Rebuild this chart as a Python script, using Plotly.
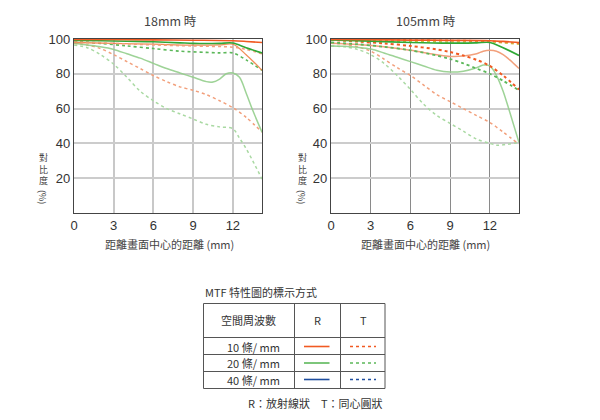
import plotly.graph_objects as go

# ---------------- data ----------------
TITLE_L = "18mm 時"
TITLE_R = "105mm 時"
X_TITLE = "距離畫面中心的距離 (mm)"
Y_TITLE_CHARS = ["對", "比", "度"]
Y_TITLE_UNIT = "(%)"
X_TICKS = [0, 3, 6, 9, 12]
Y_TICKS = [20, 40, 60, 80, 100]

# 18mm curves
w_10R_x = [0, 3, 6, 9, 12, 13, 14.2]
w_10R_v = [99.8, 99.7, 99.5, 99.3, 99.0, 98.6, 98.0]
w_20R_x = [0, 2, 4, 6, 8, 9, 10, 11, 12, 13, 14.2]
w_20R_v = [99.2, 99.0, 98.7, 98.4, 97.8, 97.5, 97.4, 97.5, 97.7, 95.0, 92.0]
w_10T_x = [0, 3, 6, 9, 12, 13, 14.2]
w_10T_v = [98.5, 97.5, 96.6, 96.0, 95.3, 94.0, 91.5]
w_10Tb_x = [0, 3, 6, 9, 11, 12, 13, 14.2]
w_10Tb_v = [98.0, 97.5, 97.0, 96.5, 96.6, 97.0, 91.0, 82.0]
w_20T_x = [0, 2, 4, 6, 8, 10, 11, 12, 13, 14.2]
w_20T_v = [98.5, 97.5, 96.0, 94.5, 93.0, 92.3, 92.0, 92.0, 88.0, 82.0]
w_20Rb_x = [0, 1, 2, 3, 4, 5, 6, 7, 8, 9, 10, 10.5, 11, 11.5, 12, 12.5, 13, 13.5, 14.2]
w_20Rb_v = [97.5, 96.5, 95.5, 94.0, 91.5, 89.0, 86.0, 83.0, 80.5, 78.0, 75.5, 75.3, 77.0, 80.0, 80.5, 78.0, 69.0, 59.0, 46.5]
w_10Tc_x = [0, 1, 2, 3, 4, 5, 6, 7, 8, 9, 10, 11, 12, 13, 14.2]
w_10Tc_v = [97.5, 96.5, 94.5, 91.0, 87.0, 83.0, 79.0, 75.5, 72.5, 70.5, 68.0, 64.5, 60.5, 55.0, 46.5]
w_20Tc_x = [0, 1, 2, 3, 4, 5, 6, 7, 8, 9, 10, 11, 12, 12.5, 13, 13.5, 14.2]
w_20Tc_v = [96.5, 95.0, 91.0, 85.5, 78.0, 70.0, 64.5, 60.0, 57.0, 54.0, 51.0, 49.5, 48.5, 43.0, 37.0, 30.0, 19.5]

# 105mm curves
t_10R_x = [0, 3, 6, 9, 12, 13, 14.2]
t_10R_v = [99.8, 99.6, 99.4, 99.2, 99.0, 98.6, 98.0]
t_20R_x = [0, 3, 6, 9, 11, 12, 13, 14.2]
t_20R_v = [99.5, 98.8, 98.0, 97.6, 97.8, 98.0, 95.0, 90.5]
t_10Ta_x = [0, 3, 6, 9, 12, 14.2]
t_10Ta_v = [99.9, 99.7, 99.5, 99.2, 98.8, 97.5]
t_20Ta_x = [0, 3, 6, 9, 12, 14.2]
t_20Ta_v = [99.3, 99.0, 98.6, 98.3, 98.3, 97.0]
t_10T_x = [0, 2, 4, 6, 8, 9, 10, 11, 12, 13, 14.2]
t_10T_v = [99.5, 98.5, 97.5, 96.0, 94.0, 92.5, 90.5, 88.0, 84.5, 79.0, 71.0]
t_20T_x = [0, 2, 4, 6, 8, 9, 10, 11, 12, 13, 14.2]
t_20T_v = [98.0, 97.0, 95.5, 93.5, 90.5, 88.5, 86.0, 83.0, 80.0, 76.0, 70.5]
t_10Rb_x = [0, 2, 4, 6, 8, 9, 10, 11, 11.5, 12, 12.5, 13, 13.5, 14.2]
t_10Rb_v = [97.5, 96.8, 95.5, 93.5, 91.0, 90.0, 90.2, 91.5, 93.0, 93.5, 93.0, 91.0, 88.0, 83.0]
t_20Rb_x = [0, 1, 2, 3, 4, 5, 6, 7, 8, 9, 10, 11, 11.5, 12, 12.5, 13, 13.5, 14.2]
t_20Rb_v = [96.0, 95.8, 95.2, 94.2, 92.0, 89.5, 87.0, 84.5, 82.0, 81.0, 81.5, 83.5, 85.0, 84.5, 79.0, 70.0, 58.0, 40.5]
t_10Tc_x = [0, 1, 2, 3, 4, 5, 6, 7, 8, 9, 10, 11, 12, 13, 14.2]
t_10Tc_v = [97.5, 97.0, 95.5, 93.0, 88.5, 83.5, 79.0, 73.5, 68.0, 64.0, 60.0, 56.0, 52.0, 46.5, 39.5]
t_20Tc_x = [0, 1, 2, 3, 4, 5, 6, 7, 8, 9, 10, 11, 12, 12.5, 13, 14.2]
t_20Tc_v = [96.0, 95.5, 94.0, 91.0, 86.0, 79.0, 71.0, 62.5, 56.0, 51.5, 47.0, 42.5, 40.0, 39.0, 39.2, 40.5]

LEGEND_TITLE = "MTF 特性圖的標示方式"
LEGEND_HEAD = ["空間周波數", "R", "T"]
LEGEND_ROWS = ["10 條/ mm", "20 條/ mm", "40 條/ mm"]
LEGEND_FOOT = "R：放射線狀　T：同心圓狀"

# ---------------- styles ----------------
ORANGE = "#f15a22"
ORANGE2 = "#f07a3c"
SALMON = "#f2a07c"
DGREEN = "#2fa836"
MGREEN = "#5cb85a"
LGREEN = "#94cf8c"
PGREEN = "#a9d9a2"
BLUE = "#1f4e9f"

fig = go.Figure()


def add(x, y, color, dash, width, ax, opacity=1.0):
    fig.add_trace(go.Scatter(
        x=x, y=y, mode="lines", xaxis=ax[0], yaxis=ax[1],
        line=dict(color=color, dash=dash, width=width, shape="spline", smoothing=0.9),
        opacity=opacity, showlegend=False, hoverinfo="skip"))


L = ("x", "y")
R = ("x2", "y2")
# 18mm
add(w_20Tc_x, w_20Tc_v, PGREEN, "dot", 1.5, L)
add(w_10Tc_x, w_10Tc_v, SALMON, "dot", 1.5, L)
add(w_20Rb_x, w_20Rb_v, LGREEN, "solid", 1.5, L, 0.9)
add(w_20T_x, w_20T_v, MGREEN, "dot", 1.6, L)
add(w_10Tb_x, w_10Tb_v, ORANGE2, "solid", 1.3, L, 0.85)
add(w_10T_x, w_10T_v, SALMON, "dot", 1.6, L)
add(w_20R_x, w_20R_v, DGREEN, "solid", 1.6, L)
add(w_10R_x, w_10R_v, ORANGE, "solid", 1.6, L)
# 105mm
add(t_20Tc_x, t_20Tc_v, PGREEN, "dot", 1.5, R)
add(t_10Tc_x, t_10Tc_v, SALMON, "dot", 1.5, R)
add(t_20Rb_x, t_20Rb_v, LGREEN, "solid", 1.5, R, 0.9)
add(t_10Rb_x, t_10Rb_v, SALMON, "solid", 1.5, R)
add(t_20T_x, t_20T_v, MGREEN, "dot", 1.8, R)
add(t_10T_x, t_10T_v, ORANGE, "dot", 2.0, R)
add(t_20Ta_x, t_20Ta_v, "#c8c040", "dot", 1.5, R)
add(t_10Ta_x, t_10Ta_v, ORANGE2, "dot", 1.5, R)
add(t_20R_x, t_20R_v, DGREEN, "solid", 1.7, R)
add(t_10R_x, t_10R_v, ORANGE, "solid", 1.7, R)

W, H = 600, 420


def px(x):
    return x / W


def py(y):
    return 1 - y / H


TICKFONT = dict(family="Liberation Sans, Arial, sans-serif", size=13, color="#333")
axis_common = dict(showline=True, linecolor="#444", linewidth=1.2, mirror=True,
                   ticks="", zeroline=False, tickfont=TICKFONT, fixedrange=True,
                   automargin=False)

fig.update_layout(
    template="none",
    width=W, height=H, margin=dict(l=0, r=0, t=0, b=0, pad=0, autoexpand=False),
    paper_bgcolor="white", plot_bgcolor="white",
    xaxis=dict(domain=[px(74), px(262)], range=[0, 14.2], tickvals=X_TICKS,
               gridcolor="#c8c8c8", gridwidth=2, anchor="y", **axis_common),
    yaxis=dict(domain=[py(213), py(39)], range=[0, 100], tickvals=Y_TICKS,
               gridcolor="#cccccc", gridwidth=2, anchor="x", **axis_common),
    xaxis2=dict(domain=[px(331), px(519)], range=[0, 14.2], tickvals=X_TICKS,
                gridcolor="#8a8a8a", gridwidth=1, anchor="y2", **axis_common),
    yaxis2=dict(domain=[py(213), py(39)], range=[0, 100], tickvals=Y_TICKS,
                gridcolor="#cccccc", gridwidth=2, anchor="x2", **axis_common),
)

CJK = "Noto Sans CJK TC, sans-serif"
ann = []


def text(x, y, s, size=11, color="#444", xanchor="center", angle=0):
    ann.append(dict(x=px(x), y=py(y), xref="paper", yref="paper", text=s, showarrow=False,
                    xanchor=xanchor, yanchor="middle", textangle=angle,
                    font=dict(family=CJK, size=size, color=color)))


text(170, 20, TITLE_L, 12.5)
text(425, 20, TITLE_R, 12.5)
text(169, 244, X_TITLE, 11)
text(425, 244, X_TITLE, 11)
for cx in (43, 302):
    text(cx, 169, "<br>".join(Y_TITLE_CHARS), 9)
    text(cx, 197, Y_TITLE_UNIT, 9, angle=90)

# legend table
text(203, 292, LEGEND_TITLE, 11, "#333", xanchor="left")
text(248.7, 320, LEGEND_HEAD[0], 11, "#333")
text(317.5, 320, LEGEND_HEAD[1], 11, "#333")
text(363, 320, LEGEND_HEAD[2], 11, "#333")
row_y = [346.5, 363, 379.5]
for ry, s in zip(row_y, LEGEND_ROWS):
    text(253, ry, s, 11, "#333")
text(315.5, 403, LEGEND_FOOT, 11, "#333")
fig.update_layout(annotations=ann)

shapes = []
LC = "#555"


def seg(x0, y0, x1, y1, color=LC, width=1, dash="solid"):
    shapes.append(dict(type="line", xref="paper", yref="paper", x0=px(x0), y0=py(y0),
                       x1=px(x1), y1=py(y1), line=dict(color=color, width=width, dash=dash)))


for yy in (303.5, 337.5, 354.5, 371.5, 388.5):
    seg(203.5, yy, 385, yy)
for xx in (203.5, 294.5, 340.5, 385):
    seg(xx, 303.5, xx, 388.5)
for ry, c in zip(row_y, (ORANGE, MGREEN, BLUE)):
    seg(304, ry, 329.5, ry, c, 1.6)
    seg(350, ry, 376, ry, c, 1.3, "dot")
fig.update_layout(shapes=shapes)

fig.write_html("out.html")
